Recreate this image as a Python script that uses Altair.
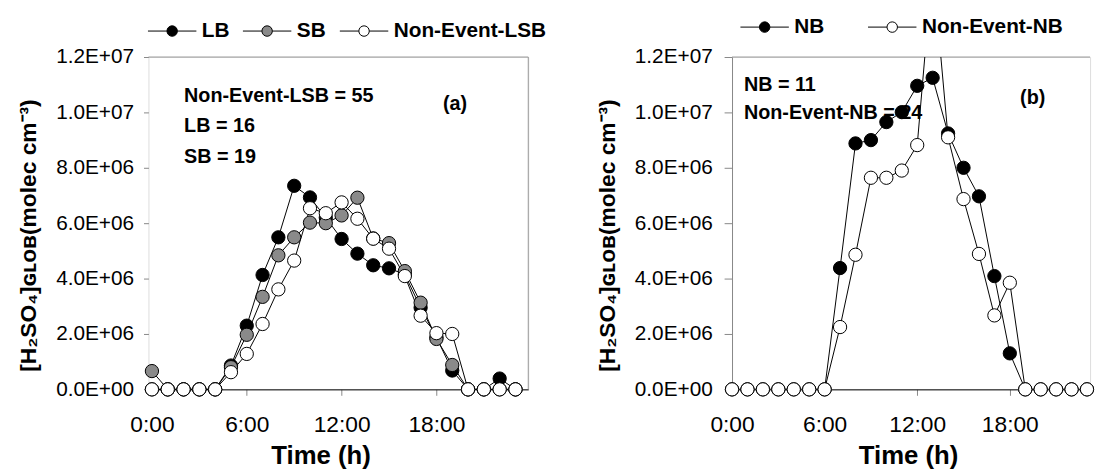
import altair as alt
import pandas as pd

FONT = "Liberation Sans"

hours = list(range(24))

# Panel (a) series, in units of 1e6 molec cm-3
lb = [0, 0, 0, 0, 0, 0.86, 2.30, 4.13, 5.49, 7.35, 6.93, 6.20, 5.43, 4.90, 4.48, 4.37,
      4.15, 2.95, 1.88, 0.68, 0, 0, 0.39, 0]
sb = [0.66, 0, 0, 0, 0, 0.80, 1.97, 3.34, 4.84, 5.49, 6.02, 6.00, 6.28, 6.92, 5.45, 5.28,
      4.27, 3.13, 1.82, 0.88, 0, 0, 0, 0]
ne_lsb = [0, 0, 0, 0, 0, 0.62, 1.28, 2.36, 3.61, 4.65, 6.54, 6.36, 6.75, 6.16, 5.44, 5.08,
          4.09, 2.66, 2.03, 2.00, 0, 0, 0, 0]

# Panel (b) series
nb = [0, 0, 0, 0, 0, 0, 0, 4.38, 8.88, 9.00, 9.65, 10.01, 10.96, 11.25, 9.24, 8.00,
      6.97, 4.09, 1.30, 0, 0, 0, 0, 0]
ne_nb = [0, 0, 0, 0, 0, 0, 0, 2.25, 4.86, 7.64, 7.64, 7.90, 8.82, 15.3, 9.10, 6.87,
         4.89, 2.67, 3.85, 0, 0, 0, 0, 0]

names_a = ["LB", "SB", "Non-Event-LSB"]
fills_a = ["#000000", "#8a8a8a", "#ffffff"]
names_b = ["NB", "Non-Event-NB"]
fills_b = ["#000000", "#ffffff"]

notes_a = ["Non-Event-LSB = 55", "LB = 16", "SB = 19"]
notes_b = ["NB = 11", "Non-Event-NB = 24"]
tag_a = "(a)"
tag_b = "(b)"

y_ticks = [0, 2e6, 4e6, 6e6, 8e6, 1e7, 1.2e7]
x_ticks = [0, 6, 12, 18]
y_title = "[H\u2082SO\u2084]\u0262\u029f\u1d0f\u0299(molec cm\u207b\u00b3)"

# legend symbol: line - circle - line
SYM = ("M-1,0L0.6,0M1.48,0L3.08,0"
       "M1.48,0A0.44,0.44,0,1,1,0.6,0A0.44,0.44,0,1,1,1.48,0Z")

H = 336


def long_df(names, series):
    rows = []
    for i, (n, vals) in enumerate(zip(names, series)):
        for h, v in zip(hours, vals):
            rows.append({"hour": h, "value": v * 1e6, "series": n, "idx": i})
    return pd.DataFrame(rows)


def panel(df, names, fills, xdom, width, leg_x, leg_y, col_pad, notes, note_x,
          note_y, tag, tag_x, tag_y, y_domain_line, y_tick, y_lab_pad, y_title_pad,
          right_frame, clip, x_title_x):
    x = alt.X("hour:Q",
              scale=alt.Scale(domain=xdom, nice=False, zero=False),
              axis=alt.Axis(values=x_ticks, labelExpr="datum.value + ':00'",
                            title="Time (h)", tickSize=6, labelPadding=19,
                            labelFlush=False,
                            labelFontSize=23, titleFontSize=26, titlePadding=6,
                            titleX=x_title_x, grid=False, domainColor="black"))
    y = alt.Y("value:Q",
              scale=alt.Scale(domain=[0, 1.2e7], nice=False, zero=True),
              axis=alt.Axis(values=y_ticks,
                            labelExpr="replace(format(datum.value, '.1e'), 'e+', 'E+0')",
                            title=y_title, tickSize=y_tick, labelPadding=y_lab_pad,
                            titlePadding=y_title_pad, domain=y_domain_line,
                            labelFlush=False, titleY=180,
                            labelFontSize=21, titleFontSize=23, grid=False))
    base = alt.Chart(df)
    layers = []
    frame = pd.DataFrame({"k": [0]})
    layers.append(alt.Chart(frame).mark_rule(color="#9a9a9a", strokeWidth=1).encode(
        x=alt.value(0), x2=alt.value(width), y=alt.value(0)))
    if right_frame:
        layers.append(alt.Chart(frame).mark_rule(color="#9a9a9a", strokeWidth=1).encode(
            x=alt.value(width), y=alt.value(0), y2=alt.value(H)))
    for t, ny in zip(notes, note_y):
        layers.append(alt.Chart(frame).mark_text(
            align="left", baseline="middle", font=FONT, fontSize=20,
            fontWeight="bold", color="black").encode(
            x=alt.value(note_x), y=alt.value(ny), text=alt.value(t)))
    layers.append(alt.Chart(frame).mark_text(
        align="center", baseline="middle", font=FONT, fontSize=20,
        fontWeight="bold", color="black").encode(
        x=alt.value(tag_x), y=alt.value(tag_y), text=alt.value(tag)))
    layers.append(base.mark_line(color="black", strokeWidth=1, clip=clip).encode(
        x=x, y=y, detail="series:N", order="hour:Q"))
    layers.append(base.transform_filter(alt.datum.value <= 1.2e7).mark_point(
        shape="circle", filled=True, stroke="black", strokeWidth=1, size=180,
        opacity=1).encode(
        x=x, y=y,
        fill=alt.Fill("series:N", scale=alt.Scale(domain=names, range=fills),
                      sort=names,
                      legend=alt.Legend(orient="none", legendX=leg_x, legendY=leg_y,
                                        direction="horizontal", title=None,
                                        symbolType=SYM, symbolSize=576,
                                        symbolStrokeColor="black",
                                        symbolStrokeWidth=1, symbolOpacity=1,
                                        labelFont=FONT, labelFontSize=21,
                                        labelFontWeight="bold", labelColor="black",
                                        labelOffset=30, columnPadding=col_pad,
                                        labelLimit=400, padding=0)),
        order=alt.Order("idx:Q")))
    return alt.layer(*layers).properties(width=width, height=H)


df_a = long_df(names_a, [lb, sb, ne_lsb])
df_b = long_df(names_b, [nb, ne_nb])

pa = panel(df_a, names_a, fills_a, [-0.22, 23.81], 384, -1, -39, 11,
           notes_a, 36, [39, 70, 101], tag_a, 310, 48, False, 5, 10, 15, True,
           False, 174)
pb = panel(df_b, names_b, fills_b, [0, 23.2], 362, 8, -43, 41,
           notes_b, 12, [28, 57], tag_b, 304, 41, True, 8, 12, 15, False,
           True, 178)

chart = alt.hconcat(pa, pb, spacing=206, bounds="flush").resolve_scale(
    fill="independent", x="independent", y="independent"
).resolve_legend(fill="independent").properties(
    padding={"left": 9, "top": 3, "right": 0, "bottom": 0}
).configure_view(stroke=None).configure_axis(
    labelFont=FONT, labelFontWeight="bold", labelColor="black",
    titleFont=FONT, titleFontWeight="bold", titleColor="black",
    domainColor="black", tickColor="black", domainWidth=1, tickWidth=1
).configure(background="white")

chart.save("out.html", embed_options={"renderer": "svg", "actions": False})
